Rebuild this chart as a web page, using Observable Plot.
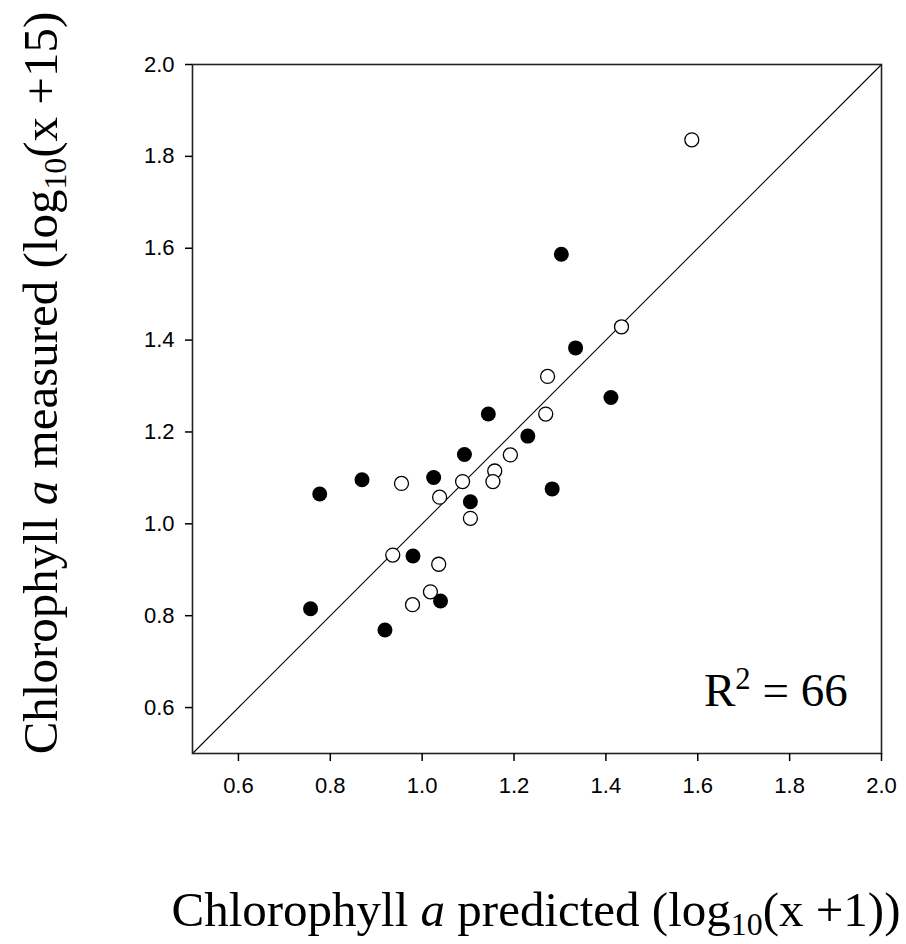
<!DOCTYPE html>
<html>
<head>
<meta charset="utf-8">
<script src="https://cdn.jsdelivr.net/npm/d3@7"></script>
<script src="https://cdn.jsdelivr.net/npm/@observablehq/plot@0.6"></script>
<style>
  html, body { margin: 0; padding: 0; background: #fff; }
  #chart svg { display: block; }
</style>
</head>
<body>
<div id="chart"></div>
<script>
// Filled circles
const predictedFilled = [0.777, 0.869, 1.025, 1.092, 1.105, 0.980, 1.040, 0.757, 0.919, 1.334, 1.411, 1.144, 1.230, 1.283, 1.303];
const measuredFilled  = [1.065, 1.096, 1.101, 1.151, 1.048, 0.930, 0.832, 0.815, 0.769, 1.383, 1.275, 1.239, 1.191, 1.076, 1.587];
// Open circles
const predictedOpen = [0.955, 1.088, 1.038, 1.105, 0.936, 1.036, 1.018, 0.979, 1.273, 1.269, 1.192, 1.158, 1.154, 1.587, 1.434];
const measuredOpen  = [1.088, 1.092, 1.058, 1.012, 0.932, 0.912, 0.852, 0.824, 1.321, 1.239, 1.150, 1.115, 1.092, 1.836, 1.429];
// 1:1 line endpoints
const diagonal = [0.5, 2.0];
// Tick values
const tickValues = [0.6, 0.8, 1.0, 1.2, 1.4, 1.6, 1.8, 2.0];

const filled = predictedFilled.map((p, i) => ({predicted: p, measured: measuredFilled[i]}));
const open = predictedOpen.map((p, i) => ({predicted: p, measured: measuredOpen[i]}));
const diag = diagonal.map(v => ({predicted: v, measured: v}));

const W = 906, H = 944;
const chart = Plot.plot({
  width: W,
  height: H,
  marginLeft: 192,
  marginRight: 25,
  marginTop: 64,
  marginBottom: 191,
  style: {fontFamily: "'Liberation Sans', Arial, sans-serif", fontSize: "22px", background: "#fff", color: "#000"},
  x: {domain: [0.5, 2.0], label: null},
  y: {domain: [0.5, 2.0], label: null},
  marks: [
    Plot.line(diag, {x: "predicted", y: "measured", stroke: "#000", strokeWidth: 1.1}),
    Plot.dot(filled, {x: "predicted", y: "measured", r: 7.5, fill: "#000", stroke: "none"}),
    Plot.dot(open, {x: "predicted", y: "measured", r: 7, fill: "#fff", stroke: "#000", strokeWidth: 1.3}),
    Plot.frame({stroke: "#222", strokeWidth: 1.6}),
    Plot.axisX({ticks: tickValues, tickFormat: d3.format(".1f"), tickSize: 8, tickPadding: 16, fontSize: 22, label: null, stroke: "#000", strokeWidth: 1.5}),
    Plot.axisY({ticks: tickValues, tickFormat: d3.format(".1f"), tickSize: 7, tickPadding: 11, fontSize: 22, label: null, stroke: "#000", strokeWidth: 1.5})
  ]
});
document.getElementById("chart").appendChild(chart);

const svg = d3.select(chart);
svg.selectAll("text").attr("font-size", 22).style("font-size", "22px");

const serif = "'Liberation Serif', 'Times New Roman', serif";

function title(sel, unit) {
  sel.append("tspan").text("Chlorophyll ");
  sel.append("tspan").attr("font-style", "italic").text("a");
  sel.append("tspan").text(unit === "x" ? " predicted (log" : " measured (log");
  sel.append("tspan").attr("font-size", "0.65em").attr("dy", "0.28em").text("10");
  sel.append("tspan").attr("dy", "-0.182em").text(unit === "x" ? "(x +1))" : "(x +15)");
}

// X-axis title
const xt = svg.append("text")
  .attr("x", 536).attr("y", 926)
  .attr("text-anchor", "middle")
  .attr("font-family", serif).attr("font-size", 49).attr("fill", "#000");
title(xt, "x");

// Y-axis title
const yt = svg.append("text")
  .attr("transform", "translate(57,383) rotate(-90)")
  .attr("text-anchor", "middle")
  .attr("font-family", serif).attr("font-size", 49).attr("fill", "#000");
title(yt, "y");

// R² annotation
const rt = svg.append("text")
  .attr("x", 704).attr("y", 706)
  .attr("text-anchor", "start")
  .attr("font-family", serif).attr("font-size", 47).attr("fill", "#000");
rt.append("tspan").text("R");
rt.append("tspan").attr("font-size", "0.65em").attr("dy", "-0.55em").text("2");
rt.append("tspan").attr("dy", "0.3575em").text(" = 66");
</script>
</body>
</html>
